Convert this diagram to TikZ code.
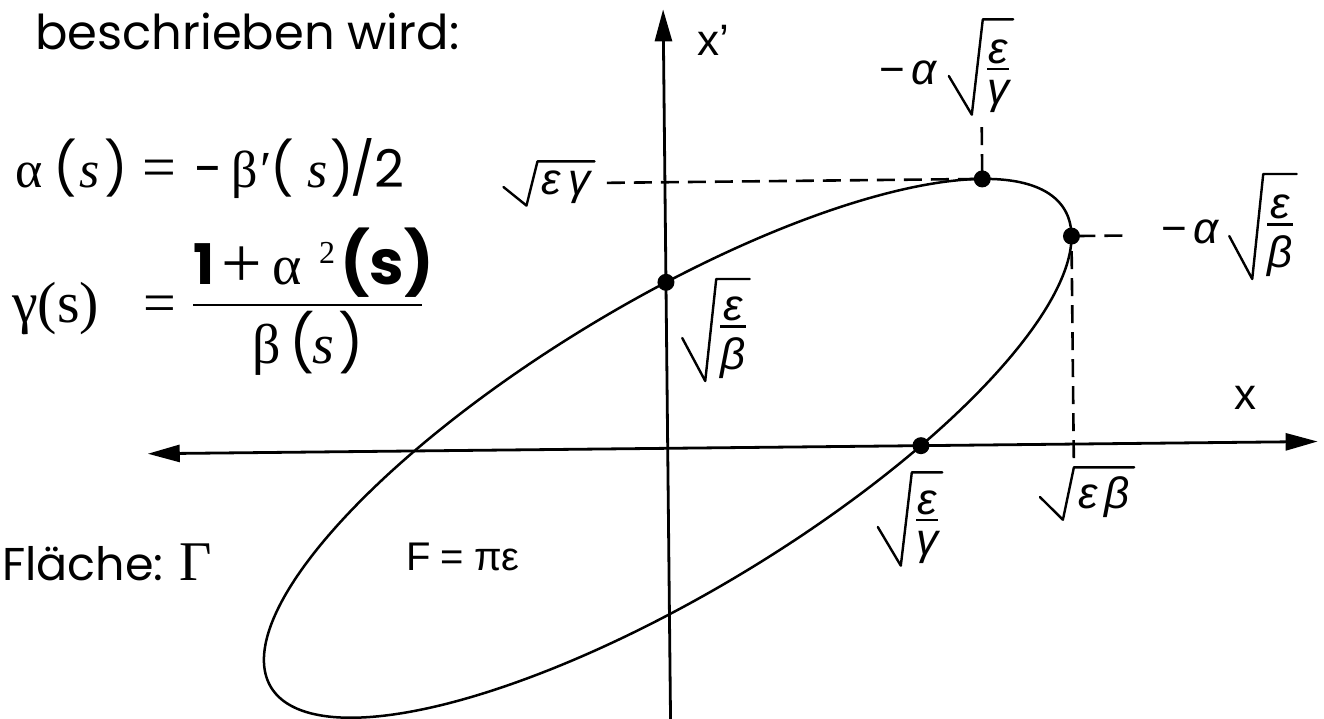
\documentclass[tikz,border=0pt]{standalone}
\usepackage{graphicx}
\usepackage{fontspec}
\newfontfamily\cs{Poppins}
\newfontfamily\sr{Liberation Serif}
\newfontfamily\ls{Liberation Sans}
\usetikzlibrary{arrows.meta}
\newsavebox\fracbx
\newcommand\gfrac[2]{\sbox\fracbx{\vbox{\offinterlineskip\halign{\hfil##\hfil\cr\mbox{#1}\cr\noalign{\kern4pt\hrule height 2.5pt\kern10pt}\mbox{#2}\cr}}}\raisebox{\dimexpr 0.3em-(\ht\fracbx-\dp\fracbx)/2\relax}{\usebox\fracbx}}
% radical sign drawn round a named radicand node; #2 = gap of the bar above it
\newcommand\radsign[2]{\draw[radl] ([xshift=-38pt]#1.west) -- ([shift={(-15pt,-2pt)}]#1.south west) -- ([shift={(-4pt,#2)}]#1.north west) -- ([shift={(4pt,#2)}]#1.north east);}
\begin{document}
\begin{tikzpicture}[x=1pt,y=1pt,
  axis/.style={line width=2.8pt},
  curve/.style={line width=2.5pt},
  guide/.style={line width=2.6pt, dash pattern=on 18pt off 9pt},
  radl/.style={line width=2.4pt, line join=round, line cap=round},
  dot/.style={circle, fill=black, inner sep=0pt, minimum size=17pt},
  lbl/.style={inner sep=0pt, font=\ls\fontsize{44}{48}\selectfont},
  txt/.style={inner sep=0pt, anchor=base west},
  cs52/.style={font=\cs\fontsize{52}{56}\selectfont},
  sr52/.style={font=\sr\fontsize{52}{56}\selectfont},
  sr56/.style={font=\sr\fontsize{56}{60}\selectfont},
  tipa/.style={-{Triangle[length=32pt,width=17pt]}},
  tipb/.style={{Triangle[length=32pt,width=17pt]}-{Triangle[length=32pt,width=17pt]}}]
\useasboundingbox (0,0) rectangle (1324,-718);

\begin{scope}[shift={(667.7,-448.3)}, rotate=0.6]
  \coordinate (xL) at (-520,0);
  \coordinate (xR) at (650,0);
  \coordinate (yB) at (0,-272);
  \coordinate (yT) at (0,439);
  \draw[axis, tipb] (xL) -- (xR);
  \draw[axis, tipa] (yB) -- (yT);
  \draw[curve] plot[domain=0:360, samples=361, variable=\t]
    ({406*cos(\t)}, {208*cos(\t)-166*sin(\t)}) -- cycle;
  \coordinate (c1) at (0,166);
  \coordinate (c2) at (317.4,266.1);
  \coordinate (c3) at (406,208);
  \coordinate (c4) at (253.3,0);
  \coordinate (d1) at (-58,266.1);
  \coordinate (d2) at (317.4,318);
  \coordinate (d3) at (457,208);
  \coordinate (d4) at (406,-14);
  \draw[guide] (d1) -- (c2);
  \draw[guide] (d2) -- (c2);
  \draw[guide] (d3) -- (c3);
  \draw[guide] (d4) -- (c3);
  \node[dot] (P1) at (c1) {};
  \node[dot] (P2) at (c2) {};
  \node[dot] (P3) at (c3) {};
  \node[dot] (P4) at (c4) {};
\end{scope}

% axis labels
\node[lbl] (lxp) at (713,-40) {x’};
\node[lbl] (lx) at (1245,-398) {x};
\node[lbl, font=\ls\fontsize{40}{44}\selectfont] (lF) at (463,-557) {F\hspace{10pt}=\hspace{10pt}πε};

% point labels: prefix and radicand
\node[lbl] (lagA) at (908,-73) {−\hspace{6pt}{\itshape α}};
\node[lbl] (lagR) at (998,-76) {\gfrac{\itshape ε}{\itshape γ}};
\radsign{lagR}{20pt}
\node[lbl] (lsegR) at (566,-187) {\itshape ε\,γ};
\radsign{lsegR}{9pt}
\node[lbl] (labA) at (1190,-232) {−\hspace{6pt}{\itshape α}};
\node[lbl] (labR) at (1280,-236) {\gfrac{\itshape ε}{\itshape β}};
\radsign{labR}{21pt}
\node[lbl] (lebR) at (733,-338) {\gfrac{\itshape ε}{\itshape β}};
\radsign{lebR}{18pt}
\node[lbl] (legR) at (927,-527) {\gfrac{\itshape ε}{\itshape γ}};
\radsign{legR}{18pt}
\node[lbl] (lsbR) at (1104,-497) {\itshape ε\,β};
\radsign{lsbR}{9pt}

% left text
\node[txt] (t1) at (35,-49) {\cs\fontsize{48}{56}\selectfont beschrieben wird:};

% alpha(s) = -beta'(s)/2
\node[txt, sr52] (a1) at (15,-187) {α};
\node[txt, cs52] (a2) at (53,-187) {(};
\node[txt, sr52] (a3) at (79,-187) {\itshape s};
\node[txt, cs52] (a4) at (104,-187) {)};
\node[txt, font=\sr\fontsize{60}{64}\selectfont] (a5) at (142,-187) {=};
\node[txt, cs52] (a6) at (194,-187) {-};
\node[txt, sr52] (a7) at (231,-187) {β};
\node[txt, sr52] (a8) at (260,-187) {′};
\node[txt, cs52] (a9) at (270,-187) {(};
\node[txt, sr52] (a10) at (307,-187) {\itshape s};
\node[txt, cs52] (a11) at (330,-187) {)};
\node[txt, cs52] (a12) at (350,-187) {/2};

% gamma(s) = (1+alpha^2(s))/beta(s)
\node[txt] (t3) at (12,-322) {\sr\fontsize{58}{62}\selectfont γ(s)};
\node[inner sep=0pt] (teq) at (160,-309) {\sr\fontsize{58}{62}\selectfont =};
\node[txt, font=\cs\bfseries\fontsize{56}{60}\selectfont] (n1) at (193,-284) {1};
\node[txt, font=\sr\fontsize{72}{76}\selectfont] (n2) at (221,-287) {+};
\node[txt, sr56] (n3) at (272,-284) {α};
\node[txt, font=\sr\fontsize{32}{34}\selectfont] (n4) at (319,-263) {2};
\node[txt, font=\cs\bfseries\fontsize{62}{66}\selectfont] (n5) at (340,-284) {(s)};
\coordinate (bl) at (193,-305);
\coordinate (br) at (422,-305);
\draw[line width=2.6pt] (bl) -- (br);
\node[txt, sr56] (m1) at (252,-363) {β};
\node[txt, font=\cs\fontsize{56}{60}\selectfont] (m2) at (289,-363) {(};
\node[txt, sr56] (m3) at (312,-363) {\itshape s};
\node[txt, font=\cs\fontsize{56}{60}\selectfont] (m4) at (338,-363) {)};

\node[txt] (t4) at (2,-580) {\cs\fontsize{46}{52}\selectfont Fläche: {\sr\fontsize{56}{60}\selectfont Γ}};
\end{tikzpicture}
\end{document}
